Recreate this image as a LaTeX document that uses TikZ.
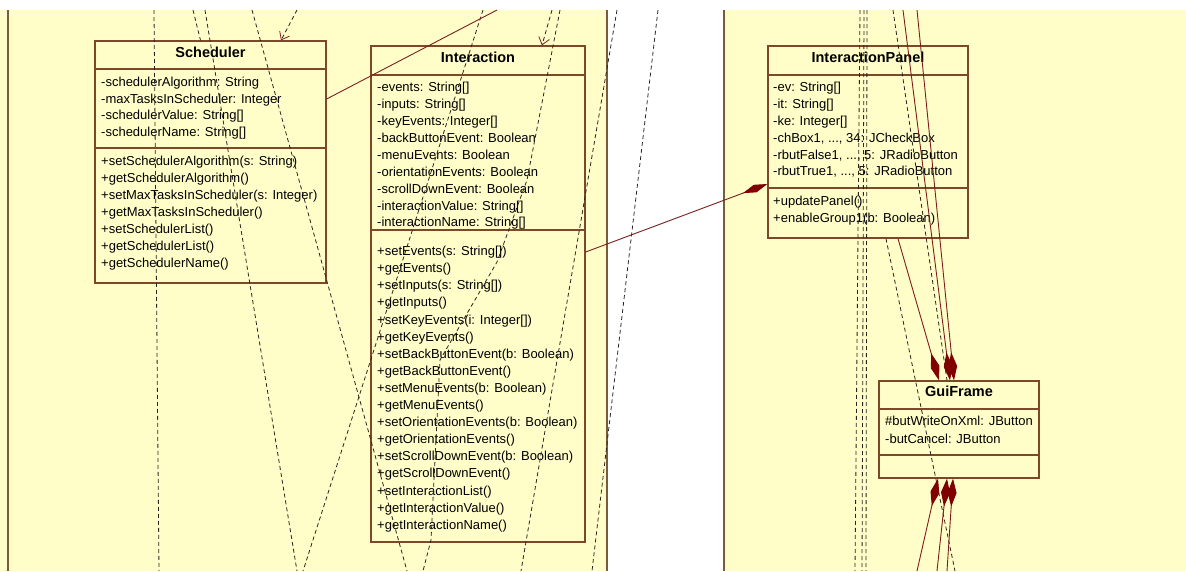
\documentclass[tikz,border=0pt]{standalone}
\usepackage{fontspec}
\setmainfont{Liberation Sans}
\usetikzlibrary{arrows.meta}
\definecolor{bgyellow}{RGB}{255,254,200}
\definecolor{panelline}{RGB}{122,92,60}
\definecolor{boxline}{RGB}{125,72,40}
\definecolor{conn}{RGB}{125,30,30}
\definecolor{dashcol}{RGB}{45,35,30}
\definecolor{diam}{RGB}{128,0,0}
\begin{document}
\begin{tikzpicture}[x=1pt,y=-1pt,
  classbox/.style={draw=boxline, line width=1.3pt, rectangle, inner sep=0pt},
  sepline/.style={draw=boxline, line width=1.3pt},
  panel/.style={draw=panelline, line width=1.6pt},
  member/.style={anchor=mid west, inner sep=0pt, font=\fontsize{13}{15}\selectfont},
  ctitle/.style={anchor=mid, inner sep=0pt, font=\fontsize{14.5}{16}\selectfont\bfseries},
  dep/.style={draw=dashcol, line width=0.8pt, dash pattern=on 4pt off 3pt},
  deparrow/.style={dep, -{Straight Barb[length=7pt,width=11pt,color=conn]}},
  assoc/.style={draw=conn, line width=0.9pt},
  comp/.style={assoc, -{Diamond[length=26pt,width=8pt,color=diam]}},
  compv/.style={assoc, -{Diamond[length=28pt,width=9pt,color=diam]}}
]
\useasboundingbox (0,0) rectangle (1186,571);
\fill[white] (0,0) rectangle (1186,571);
\fill[bgyellow] (0,10) rectangle (607,571);
\fill[bgyellow] (724,10) rectangle (1186,571);
\draw[panel] (8,10) -- (8,571);
\draw[panel] (607,10) -- (607,571);
\draw[panel] (724,10) -- (724,571);

% ---------- Scheduler ----------
\node[classbox, minimum width=231pt, minimum height=242pt] (sched) at (210.5,162) {};
\draw[sepline] (95,69) -- (326,69);
\draw[sepline] (95,148) -- (326,148);
\node[ctitle] (schedT) at (210.5,55) {Scheduler};
\node[member] (sa1) at (101,84) {-schedulerAlgorithm: String};
\node[member] (sa2) at (101,100.5) {-maxTasksInScheduler: Integer};
\node[member] (sa3) at (101,117) {-schedulerValue: String[]};
\node[member] (sa4) at (101,133.5) {-schedulerName: String[]};
\node[member] (so1) at (101,163) {+setSchedulerAlgorithm(s: String)};
\node[member] (so2) at (101,180) {+getSchedulerAlgorithm()};
\node[member] (so3) at (101,197) {+setMaxTasksInScheduler(s: Integer)};
\node[member] (so4) at (101,214) {+getMaxTasksInScheduler()};
\node[member] (so5) at (101,231) {+setSchedulerList()};
\node[member] (so6) at (101,248) {+getSchedulerList()};
\node[member] (so7) at (101,265) {+getSchedulerName()};

% ---------- Interaction ----------
\node[classbox, minimum width=214pt, minimum height=496pt] (inter) at (478,294) {};
\draw[sepline] (371,75) -- (585,75);
\draw[sepline] (371,230) -- (585,230);
\node[ctitle] (interT) at (478,60) {Interaction};
\node[member] (ia1) at (377,89) {-events: String[]};
\node[member] (ia2) at (377,106) {-inputs: String[]};
\node[member] (ia3) at (377,123) {-keyEvents: Integer[]};
\node[member] (ia4) at (377,140) {-backButtonEvent: Boolean};
\node[member] (ia5) at (377,157) {-menuEvents: Boolean};
\node[member] (ia6) at (377,173.5) {-orientationEvents: Boolean};
\node[member] (ia7) at (377,190.5) {-scrollDownEvent: Boolean};
\node[member] (ia8) at (377,207.5) {-interactionValue: String[]};
\node[member] (ia9) at (377,224) {-interactionName: String[]};
\node[member] (io1) at (377,253) {+setEvents(s: String[])};
\node[member] (io2) at (377,270.1) {+getEvents()};
\node[member] (io3) at (377,287.2) {+setInputs(s: String[])};
\node[member] (io4) at (377,304.3) {+getInputs()};
\node[member] (io5) at (377,321.4) {+setKeyEvents(i: Integer[])};
\node[member] (io6) at (377,338.5) {+getKeyEvents()};
\node[member] (io7) at (377,355.6) {+setBackButtonEvent(b: Boolean)};
\node[member] (io8) at (377,372.7) {+getBackButtonEvent()};
\node[member] (io9) at (377,389.8) {+setMenuEvents(b: Boolean)};
\node[member] (io10) at (377,406.9) {+getMenuEvents()};
\node[member] (io11) at (377,424) {+setOrientationEvents(b: Boolean)};
\node[member] (io12) at (377,441.1) {+getOrientationEvents()};
\node[member] (io13) at (377,458.2) {+setScrollDownEvent(b: Boolean)};
\node[member] (io14) at (377,475.3) {+getScrollDownEvent()};
\node[member] (io15) at (377,492.4) {+setInteractionList()};
\node[member] (io16) at (377,509.5) {+getInteractionValue()};
\node[member] (io17) at (377,526.6) {+getInteractionName()};

% ---------- InteractionPanel ----------
\node[classbox, minimum width=200pt, minimum height=192pt] (ipanel) at (868,142) {};
\draw[sepline] (768,75) -- (968,75);
\draw[sepline] (768,188) -- (968,188);
\node[ctitle] (ipanelT) at (868,60) {InteractionPanel};
\node[member] (pa1) at (773,89) {-ev: String[]};
\node[member] (pa2) at (773,106) {-it: String[]};
\node[member] (pa3) at (773,123) {-ke: Integer[]};
\node[member] (pa4) at (773,139.5) {-chBox1, ..., 34: JCheckBox};
\node[member] (pa5) at (773,156.5) {-rbutFalse1, ..., 5: JRadioButton};
\node[member] (pa6) at (773,173) {-rbutTrue1, ..., 5: JRadioButton};
\node[member] (po1) at (773,203) {+updatePanel()};
\node[member] (po2) at (773,220) {+enableGroup1(b: Boolean)};

% ---------- GuiFrame ----------
\node[classbox, minimum width=160pt, minimum height=97pt] (gui) at (959,429.5) {};
\draw[sepline] (879,409) -- (1039,409);
\draw[sepline] (879,455) -- (1039,455);
\node[ctitle] (guiT) at (959,394) {GuiFrame};
\node[member] (ga1) at (885,423) {\#butWriteOnXml: JButton};
\node[member] (ga2) at (885,440.5) {-butCancel: JButton};

% ---------- free ends ----------
\coordinate (d1a) at (154,10);  \coordinate (d1b) at (159,571);
\coordinate (d2a) at (205,10);  \coordinate (d2b) at (297,571);
\coordinate (d7a) at (193,10);
\coordinate (d4a) at (252,10);  \coordinate (d4b) at (407,571);
\coordinate (a1a) at (297,10);
\coordinate (d5a) at (483,10);  \coordinate (d5b) at (303,571);
\coordinate (a2a) at (552,10);
\coordinate (d6a) at (560,10);  \coordinate (d6b) at (423,571);
\coordinate (d9a) at (617,10);  \coordinate (d9b) at (521,571);
\coordinate (d8a) at (658,10);  \coordinate (d8b) at (592,571);
\coordinate (v1a) at (860,10);  \coordinate (v1b) at (855,571);
\coordinate (v2a) at (864,10);  \coordinate (v2b) at (862,571);
\coordinate (v3a) at (867,10);  \coordinate (v3b) at (866,571);
\coordinate (r1a) at (893,10);
\coordinate (r2b) at (955,571);
\coordinate (s0b) at (497,10);
\coordinate (s2a) at (903,10);
\coordinate (s3a) at (917,10);
\coordinate (s4a) at (917,571);
\coordinate (s5a) at (937,571);
\coordinate (s6a) at (947,571);

% ---------- dashed dependencies ----------
\draw[dep] (d1a) -- (d1b);
\draw[dep] (d2a) -- (d2b);
\draw[dep] (d7a) -- ([xshift=-10pt]sched.north);
\draw[dep] (d4a) -- (d4b);
\draw[deparrow] (a1a) -- ([xshift=70.5pt]sched.north);
\draw[dep] (d5a) -- (d5b);
\draw[deparrow] (a2a) -- ([xshift=64pt]inter.north);
\draw[dep] (d6a) -- (527,180) -- (497,262) -- (440,360) -- (431,540) -- (d6b);
\draw[dep] (d9a) -- (d9b);
\draw[dep] (d8a) -- (d8b);
\draw[dep] (v1a) -- (v1b);
\draw[dep] (v2a) -- (v2b);
\draw[dep] (v3a) -- (v3b);
\draw[dep] (r1a) -- ([xshift=-12pt]gui.north);
\draw[dep] ([xshift=18pt]ipanel.south) -- (r2b);

% ---------- solid associations / compositions ----------
\draw[assoc] ([yshift=63pt]sched.east) -- (s0b);
\draw[comp] ([yshift=42pt]inter.east) -- ([yshift=-42pt]ipanel.west);
\draw[compv] ([xshift=30pt]ipanel.south) -- ([xshift=-20pt]gui.north);
\draw[compv] (s2a) -- ([xshift=-9pt]gui.north);
\draw[compv] (s3a) -- ([xshift=-5pt]gui.north);
\draw[compv] (s4a) -- ([xshift=-21pt]gui.south);
\draw[compv] (s5a) -- ([xshift=-12pt]gui.south);
\draw[compv] (s6a) -- ([xshift=-6pt]gui.south);
\end{tikzpicture}
\end{document}
